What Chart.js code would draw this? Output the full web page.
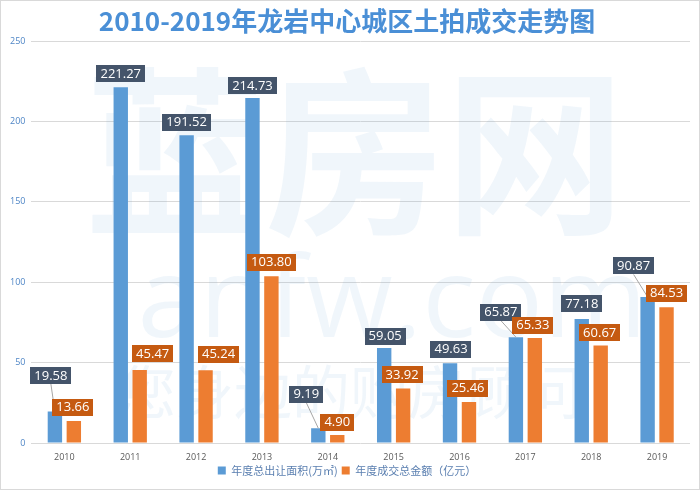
<!DOCTYPE html>
<html>
<head>
<meta charset="utf-8">
<script src="https://cdn.jsdelivr.net/npm/chart.js@4/dist/chart.umd.min.js"></script>
<style>
html,body{margin:0;padding:0;background:#fff;}
#wrap{width:700px;height:490px;position:relative;}
</style>
</head>
<body>
<div id="wrap"><canvas id="c" width="700" height="490"></canvas></div>
<script>
// ---- data ----
const years = ['2010','2011','2012','2013','2014','2015','2016','2017','2018','2019'];
const areaValues = [19.58, 221.27, 191.52, 214.73, 9.19, 59.05, 49.63, 65.87, 77.18, 90.87];
const amountValues = [13.66, 45.47, 45.24, 103.80, 4.90, 33.92, 25.46, 65.33, 60.67, 84.53];
const seriesNames = ['年度总出让面积(万㎡)', '年度成交总金额（亿元）'];
const yTicks = [0, 50, 100, 150, 200, 250];

// ---- label placement (pixels, relative to bar top) ----
const areaLabelOffset = [[-4,-36],[0,-14],[0,-13],[0,-12],[-12,-34],[1,-12],[1,-14],[-15,-25],[0,-15],[-14,-31]];
const amountLabelOffset = [[-1,-14],[13,-16],[13,-16],[0,-14],[0,-13],[-1,-14],[-1,-14],[-2,-13],[-1,-13],[0,-14]];
const labelOffsets = [areaLabelOffset, amountLabelOffset];
const labelBg = ['#44546a', '#c55a11'];

const frame = {
  id: 'frame',
  afterDraw(chart) {
    const ctx = chart.ctx;
    ctx.save();
    ctx.strokeStyle = '#d9d9d9';
    ctx.lineWidth = 1;
    ctx.strokeRect(0.5, 0.5, chart.width - 1, chart.height - 1);
    ctx.restore();
  }
};

const watermark = {
  id: 'watermark',
  beforeDatasetsDraw(chart) {
    const ctx = chart.ctx;
    ctx.save();
    ctx.fillStyle = 'rgba(91,155,213,0.09)';
    ctx.textAlign = 'center';
    ctx.textBaseline = 'middle';
    ctx.font = 'bold 180px "Noto Sans CJK SC"';
    ctx.fillText('蓝房网', 355, 152);
    ctx.font = '112px "Open Sans"';
    ctx.fillText('lanfw.com', 378, 305);
    ctx.font = '58px "Noto Sans CJK SC"';
    ctx.fillText('您身边的购房顾问', 350, 392);
    ctx.restore();
  }
};

const valueLabels = {
  id: 'valueLabels',
  afterDatasetsDraw(chart) {
    const ctx = chart.ctx;
    ctx.save();
    ctx.font = '13px "Open Sans"';
    ctx.textAlign = 'center';
    ctx.textBaseline = 'middle';
    chart.data.datasets.forEach((ds, di) => {
      const meta = chart.getDatasetMeta(di);
      meta.data.forEach((bar, i) => {
        const txt = Number(ds.data[i]).toFixed(2);
        const off = labelOffsets[di][i];
        const cx = bar.x + off[0];
        const cy = bar.y + off[1];
        const w = ctx.measureText(txt).width + 8;
        const h = 17;
        if (off[1] < -20) {
          ctx.strokeStyle = '#a6a6a6';
          ctx.lineWidth = 1;
          ctx.beginPath();
          ctx.moveTo(cx, cy + h / 2);
          ctx.lineTo(bar.x, bar.y);
          ctx.stroke();
        }
        ctx.fillStyle = labelBg[di];
        ctx.fillRect(Math.round(cx - w / 2), Math.round(cy - h / 2), Math.round(w), h);
        ctx.fillStyle = '#ffffff';
        ctx.fillText(txt, cx, cy + 0.5);
      });
    });
    ctx.restore();
  }
};

new Chart(document.getElementById('c'), {
  type: 'bar',
  data: {
    labels: years,
    datasets: [
      { label: seriesNames[0], data: areaValues, backgroundColor: '#5b9bd5', barPercentage: 0.76, categoryPercentage: 0.575 },
      { label: seriesNames[1], data: amountValues, backgroundColor: '#ed7d31', barPercentage: 0.76, categoryPercentage: 0.575 }
    ]
  },
  options: {
    responsive: false,
    animation: false,
    devicePixelRatio: 1,
    layout: { padding: { left: 4, right: 10, top: 0, bottom: 4 } },
    plugins: {
      title: {
        display: true,
        text: '2010-2019年龙岩中心城区土拍成交走势图',
        color: '#4a8fd6',
        font: { family: '"Noto Sans CJK SC"', size: 26, weight: 'bold' },
        padding: { top: 6, bottom: 4 }
      },
      legend: {
        position: 'bottom',
        labels: {
          boxWidth: 8, boxHeight: 8, padding: 4,
          color: '#5a7fb0',
          font: { family: '"Noto Sans CJK SC"', size: 11 }
        }
      },
      tooltip: { enabled: false }
    },
    scales: {
      x: {
        grid: { display: false },
        border: { display: false },
        afterFit(scale) { scale.height = 18; },
        ticks: { color: '#595959', font: { family: '"Open Sans"', size: 9 }, padding: 1 }
      },
      y: {
        min: 0, max: 250,
        afterBuildTicks(scale) { scale.ticks = yTicks.map(v => ({ value: v })); },
        grid: { color: '#d9d9d9', drawTicks: false },
        border: { display: false },
        ticks: { color: '#4f86c6', font: { family: '"Open Sans"', size: 9 }, padding: 6 }
      }
    }
  },
  plugins: [frame, watermark, valueLabels]
});
</script>
</body>
</html>
